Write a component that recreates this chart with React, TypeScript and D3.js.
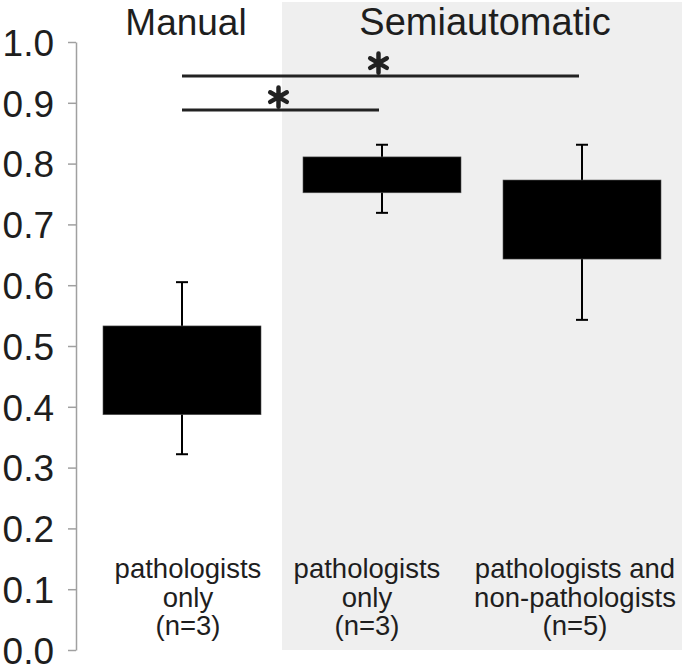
import React, { useEffect, useRef } from 'react';
import * as d3 from 'd3';

// groups and their box values
const groups = ['Manual', 'Semiautomatic'];
const categories = ['manual', 'semi-path', 'semi-all'];
const categoryLines = [
  ['pathologists', 'only', '(n=3)'],
  ['pathologists', 'only', '(n=3)'],
  ['pathologists and', 'non-pathologists', '(n=5)'],
];
const boxLow = [0.387, 0.752, 0.643];
const boxHigh = [0.533, 0.811, 0.773];
const whiskerLow = [0.322, 0.719, 0.543];
const whiskerHigh = [0.605, 0.831, 0.831];
const yTicks = [0, 0.1, 0.2, 0.3, 0.4, 0.5, 0.6, 0.7, 0.8, 0.9, 1.0];
const sigFrom = [0, 0];
const sigTo = [2, 1];
const sigLevel = [0.944, 0.888];

const W = 685;
const H = 666;
const FONT = '"Liberation Sans", Arial, sans-serif';
const TEXT = '#1e1e1e';

const App = () => {
  const ref = useRef<SVGSVGElement>(null);

  useEffect(() => {
    const svg = d3.select(ref.current);
    svg.selectAll('*').remove();

    const y = d3.scaleLinear().domain([0, 1]).range([650, 42]);
    const x = d3.scalePoint<string>().domain(categories).range([82, 682]).padding(0.5);
    const step = x.step();
    const boxW = step * 0.79;
    const axisX = 76;

    // grey panel behind the semiautomatic group
    svg.append('rect')
      .attr('x', x(categories[1])! - step / 2)
      .attr('y', 2)
      .attr('width', 682 - (x(categories[1])! - step / 2))
      .attr('height', 648)
      .attr('fill', '#efefef');

    // group titles
    svg.append('text')
      .attr('x', 186).attr('y', 35)
      .attr('text-anchor', 'middle')
      .attr('font-family', FONT).attr('font-size', 37).attr('fill', TEXT)
      .text(groups[0]);
    svg.append('text')
      .attr('x', 485).attr('y', 35)
      .attr('text-anchor', 'middle')
      .attr('font-family', FONT).attr('font-size', 38).attr('fill', TEXT)
      .text(groups[1]);

    // y axis
    const yAxis = d3.axisLeft(y)
      .tickValues(yTicks)
      .tickFormat(d3.format('.1f'))
      .tickSize(8)
      .tickSizeOuter(0)
      .tickPadding(14);
    const ag = svg.append('g').attr('transform', 'translate(' + axisX + ',0)');
    yAxis(ag);
    ag.select('.domain').attr('stroke', '#a0a0a0').attr('stroke-width', 1.5);
    ag.selectAll('.tick line').attr('stroke', '#a0a0a0').attr('stroke-width', 1.5);
    ag.selectAll('.tick text')
      .attr('font-family', FONT).attr('font-size', 37).attr('fill', TEXT)
      .attr('dy', '0.36em');

    // whiskers
    const wg = svg.append('g').attr('stroke', '#000').attr('stroke-width', 2);
    categories.forEach((c, i) => {
      const cx = x(c)!;
      wg.append('line')
        .attr('x1', cx).attr('x2', cx)
        .attr('y1', y(whiskerLow[i])).attr('y2', y(whiskerHigh[i]));
      [whiskerLow[i], whiskerHigh[i]].forEach(v => {
        wg.append('line')
          .attr('x1', cx - 6).attr('x2', cx + 6)
          .attr('y1', y(v)).attr('y2', y(v));
      });
    });

    // boxes
    svg.append('g').selectAll('rect')
      .data(categories)
      .join('rect')
      .attr('x', c => x(c)! - boxW / 2)
      .attr('y', (c, i) => y(boxHigh[i]))
      .attr('width', boxW)
      .attr('height', (c, i) => y(boxLow[i]) - y(boxHigh[i]))
      .attr('fill', '#000')
      .attr('stroke', '#555')
      .attr('stroke-width', 0.6);

    // significance bars
    const star = d3.symbol().type(d3.symbolAsterisk).size(260);
    sigLevel.forEach((lv, i) => {
      const x1 = x(categories[sigFrom[i]])!;
      const x2 = x(categories[sigTo[i]])! - 3;
      svg.append('line')
        .attr('x1', x1).attr('x2', x2)
        .attr('y1', y(lv)).attr('y2', y(lv))
        .attr('stroke', '#222').attr('stroke-width', 3);
      svg.append('path')
        .attr('d', star)
        .attr('transform', 'translate(' + ((x1 + x2) / 2 - 2) + ',' + (y(lv) - 13) + ')')
        .attr('fill', 'none')
        .attr('stroke', '#222')
        .attr('stroke-width', 4.5)
        .attr('stroke-linecap', 'round');
    });

    // category labels
    const labelDx = [6, -15, -7];
    categories.forEach((c, i) => {
      const t = svg.append('text')
        .attr('text-anchor', 'middle')
        .attr('font-family', FONT).attr('font-size', 27.5).attr('fill', TEXT);
      categoryLines[i].forEach((ln, j) => {
        t.append('tspan')
          .attr('x', x(c)! + labelDx[i])
          .attr('y', 578 + j * 28.5)
          .text(ln);
      });
    });
  }, []);

  return (
    <svg
      ref={ref}
      width={W}
      height={H}
      style={{ position: 'absolute', left: 0, top: 0, background: '#fff' }}
    />
  );
};

export default App;
